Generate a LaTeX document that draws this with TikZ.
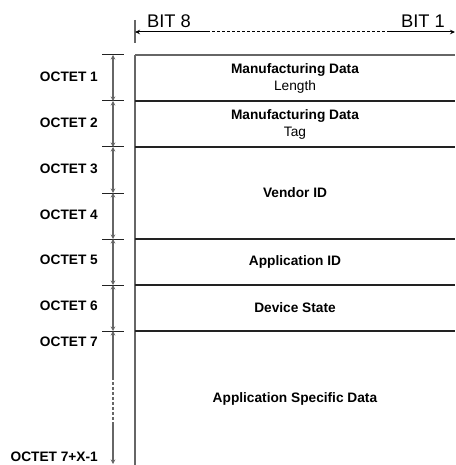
\documentclass[tikz,border=0pt]{standalone}
\usepackage{fontspec}
\setmainfont{Liberation Sans}
\usetikzlibrary{arrows.meta}
\definecolor{vline}{HTML}{666666}
\definecolor{hline}{HTML}{222222}
\tikzset{
  lbl/.style={font=\fontsize{13.7}{15}\selectfont\bfseries, inner sep=0pt, anchor=east},
  field/.style={font=\fontsize{13.7}{17}\selectfont, inner sep=0pt, align=center},
  bitlbl/.style={font=\fontsize{18.3}{20}\selectfont, inner sep=0pt},
  dim/.style={draw=vline, line width=1.4pt},
  dimarr/.style={dim, {Stealth[length=4.5pt,width=4.5pt]}-{Stealth[length=4.5pt,width=4.5pt]}},
  tick/.style={draw=hline, line width=1pt},
  row/.style={draw=hline, line width=1.1pt},
}
\begin{document}
\begin{tikzpicture}[x=1pt,y=-1pt]
\useasboundingbox (0,0) rectangle (455,465);
% bit header
\coordinate (bl) at (135,32);
\coordinate (br) at (455,32);
\coordinate (bd1) at (207,32);
\coordinate (bd2) at (390,32);
\draw[draw=vline, line width=1.4pt] (135,20) -- (135,43);
\draw[line width=1pt, {Stealth[length=5pt,width=4.5pt]}-] (bl) -- (bd1);
\draw[line width=1pt, dashed, dash pattern=on 3pt off 2pt] (bd1) -- (bd2);
\draw[line width=1pt, -{Stealth[length=5pt,width=4.5pt]}] (bd2) -- (br);
\node[bitlbl, anchor=west] (b8) at (147,21) {BIT 8};
\node[bitlbl, anchor=east] (b1) at (445,21) {BIT 1};
% table
\draw[dim] (135,55) -- (135,465);
\draw[draw=vline, line width=1.4pt] (135,55) -- (455,55);
\foreach \y in {101,147,239,285,331} \draw[row] (135,\y) -- (455,\y);
% ticks
\foreach \y in {55,101,147,193,239,285,331} \draw[tick] (102,\y) -- (124,\y);
% octet arrows
\foreach \a/\b/\n in {55/101/1,101/147/2,147/193/3,193/239/4,239/285/5,285/331/6} {
  \coordinate (s\n) at (113,\a);
  \coordinate (e\n) at (113,\b);
  \draw[dimarr] (s\n) -- (e\n);
}
\coordinate (s7) at (113,331);
\coordinate (m7a) at (113,377);
\coordinate (m7b) at (113,422);
\coordinate (e7) at (113,464);
\draw[dim, {Stealth[length=4.5pt,width=4.5pt]}-] (s7) -- (m7a);
\draw[dim, dash pattern=on 3pt off 2pt] (m7a) -- (m7b);
\draw[dim, -{Stealth[length=4.5pt,width=4.5pt]}] (m7b) -- (e7);
% labels
\node[lbl] (o1) at (98,77) {OCTET 1};
\node[lbl] (o2) at (98,123) {OCTET 2};
\node[lbl] (o3) at (98,169) {OCTET 3};
\node[lbl] (o4) at (98,215) {OCTET 4};
\node[lbl] (o5) at (98,260) {OCTET 5};
\node[lbl] (o6) at (98,306) {OCTET 6};
\node[lbl] (o7) at (98,342) {OCTET 7};
\node[lbl] (o8) at (98,457) {OCTET 7+X-1};
% fields
\node[field] (f1) at (295,78) {\textbf{Manufacturing Data}\\Length};
\node[field] (f2) at (295,124) {\textbf{Manufacturing Data}\\Tag};
\node[field] (f3) at (295,193) {\textbf{Vendor ID}};
\node[field] (f4) at (295,262) {\textbf{Application ID}};
\node[field] (f5) at (295,308) {\textbf{Device State}};
\node[field] (f6) at (295,399) {\textbf{Application Specific Data}};
\end{tikzpicture}
\end{document}
